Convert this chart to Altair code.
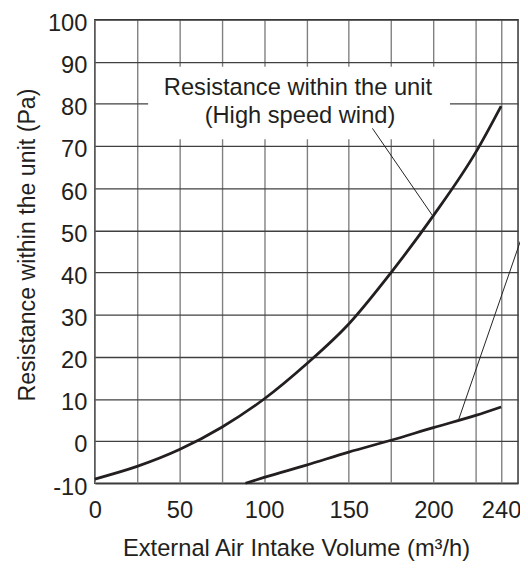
import altair as alt
import pandas as pd

# --- data ---
x_high = [0, 25, 50, 75, 100, 125, 150, 175, 200, 225, 240]
y_high = [-9, -6, -2, 3.3, 10, 18.3, 27.8, 40, 53.5, 68.5, 79.5]

x_low = [89, 100, 125, 150, 175, 200, 225, 240]
y_low = [-10, -8.6, -5.7, -2.6, 0.2, 3.2, 6.1, 8.1]

x_grid = [0, 25, 50, 75, 100, 125, 150, 175, 200, 225, 240]
y_grid = [-10, 0, 10, 20, 30, 40, 50, 60, 70, 80, 90, 100]

annot_lines = ["Resistance within the unit", "(High speed wind)"]
annot_x = [120, 121.2]
annot_y = [82.1, 75.5]

box_x = [31.5, 209.8]
box_y = [71.6, 88.8]

lead1_x = [164, 199.5]
lead1_y = [74.2, 53.5]
lead2_x = [215, 254]
lead2_y = [5.2, 50.5]

FONT = "Liberation Sans"
INK = "#231f20"
FS = 24

curves = pd.concat([
    pd.DataFrame({"x": x_high, "y": y_high, "s": "high"}),
    pd.DataFrame({"x": x_low, "y": y_low, "s": "low"}),
])
leaders = pd.concat([
    pd.DataFrame({"x": lead1_x, "y": lead1_y, "s": "a"}),
    pd.DataFrame({"x": lead2_x, "y": lead2_y, "s": "b"}),
])
box = pd.DataFrame({"x": [box_x[0]], "x2": [box_x[1]], "y": [box_y[0]], "y2": [box_y[1]]})
annot = pd.DataFrame({"x": annot_x, "y": annot_y, "t": annot_lines})

xscale = alt.Scale(domain=[0, 250], nice=False, zero=False)
yscale = alt.Scale(domain=[-10, 100], nice=False, zero=False)

x_axis = alt.Axis(
    values=x_grid,
    labelExpr="(datum.value % 50 == 0 || datum.value == 240) ? datum.label : ''",
    grid=True, gridColor="#808080", gridWidth=1.4,
    ticks=False, domain=False,
    labelFont=FONT, labelFontSize=FS, labelColor=INK, labelPadding=16,
    labelFlush=False,
    title="External Air Intake Volume (m³/h)",
    titleFont=FONT, titleFontSize=FS, titleFontWeight="normal", titleColor=INK,
    titleX=204, titleY=73, titleBaseline="alphabetic", titleAlign="center",
)
y_axis = alt.Axis(
    values=y_grid,
    labelExpr="replace(datum.label, '\u2212', '-')",
    grid=True, gridColor="#404040", gridWidth=1.3,
    ticks=False, domain=False,
    labelFont=FONT, labelFontSize=FS, labelColor=INK, labelPadding=8,
    labelOffset=4, labelFlush=False,
    title="Resistance within the unit (Pa)",
    titleFont=FONT, titleFontSize=23.5, titleFontWeight="normal", titleColor=INK,
    titleAngle=270, titleX=-61, titleY=228, titleBaseline="alphabetic", titleAlign="center",
)

X = alt.X("x:Q", scale=xscale, axis=x_axis)
Y = alt.Y("y:Q", scale=yscale, axis=y_axis)

curve_layer = alt.Chart(curves).mark_line(
    color=INK, strokeWidth=2.8, interpolate="monotone"
).encode(x=X, y=Y, detail="s:N")

box_layer = alt.Chart(box).mark_rect(fill="white").encode(
    x=X, x2="x2", y=Y, y2="y2"
)

text_layer = alt.Chart(annot).mark_text(
    font=FONT, fontSize=FS, color=INK, align="center", baseline="alphabetic"
).encode(x=X, y=Y, text="t:N")

lead_layer = alt.Chart(leaders).mark_line(color=INK, strokeWidth=1).encode(
    x=X, y=Y, detail="s:N"
)

chart = alt.layer(curve_layer, box_layer, text_layer, lead_layer).properties(
    width=429, height=470,
    autosize=alt.AutoSizeParams(type="none"),
    padding={"left": 88, "top": 8, "right": 2, "bottom": 76},
).configure_view(stroke="#333333", strokeWidth=1.5)

chart.save("out.html", embed_options={"renderer": "svg", "actions": False})
